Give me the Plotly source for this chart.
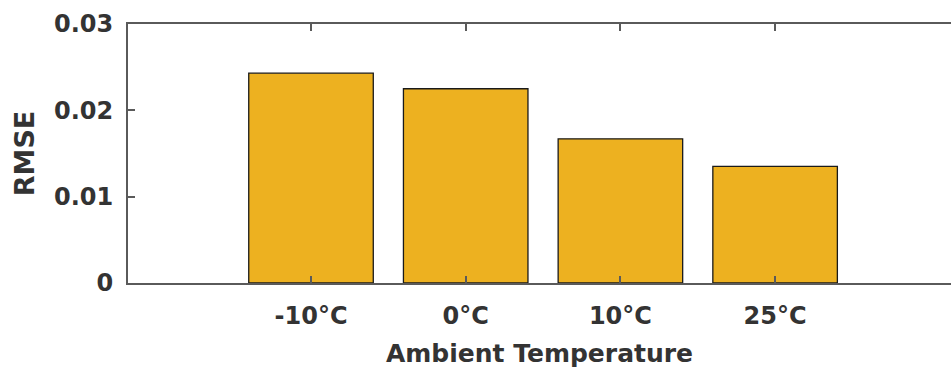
import plotly.graph_objects as go

# RMSE of the model at each ambient temperature
categories = ["-10°C", "0°C", "10°C", "25°C"]
rmse = [0.0243, 0.0225, 0.0167, 0.0135]
y_ticks = [0, 0.01, 0.02, 0.03]
y_tick_labels = ["0", "0.01", "0.02", "0.03"]

FONT = "DejaVu Sans"
TEXT = "#333333"
AXIS = "#5a5a5a"

fig = go.Figure(
    go.Bar(
        x=categories,
        y=rmse,
        marker=dict(color="#EDB120", line=dict(color="#1a1a1a", width=1.3)),
        width=0.805,
    )
)

fig.update_layout(
    width=951,
    height=370,
    margin=dict(l=128, r=0, t=24, b=87),
    paper_bgcolor="white",
    plot_bgcolor="white",
    showlegend=False,
    font=dict(family=FONT, color=TEXT),
)

fig.update_xaxes(
    type="category",
    range=[-1.183, 4.137],
    showline=True,
    linecolor=AXIS,
    linewidth=2,
    mirror="ticks",
    ticks="inside",
    ticklen=7,
    tickwidth=2,
    tickcolor=AXIS,
    showgrid=False,
    ticklabelstandoff=10,
    tickfont=dict(family=FONT, size=24, color=TEXT, weight="bold"),
    title=dict(text="Ambient Temperature",
               font=dict(family=FONT, size=25, color=TEXT, weight="bold"),
               standoff=16),
)

fig.update_yaxes(
    range=[0, 0.03],
    tickvals=y_ticks,
    ticktext=y_tick_labels,
    showline=True,
    linecolor=AXIS,
    linewidth=2,
    mirror=False,
    ticks="inside",
    ticklen=7,
    tickwidth=2,
    tickcolor=AXIS,
    showgrid=False,
    zeroline=False,
    ticklabelstandoff=8,
    tickfont=dict(family=FONT, size=24, color=TEXT, weight="bold"),
    title=dict(text="RMSE",
               font=dict(family=FONT, size=27, color=TEXT, weight="bold"),
               standoff=12),
)

fig.write_html("out.html")
